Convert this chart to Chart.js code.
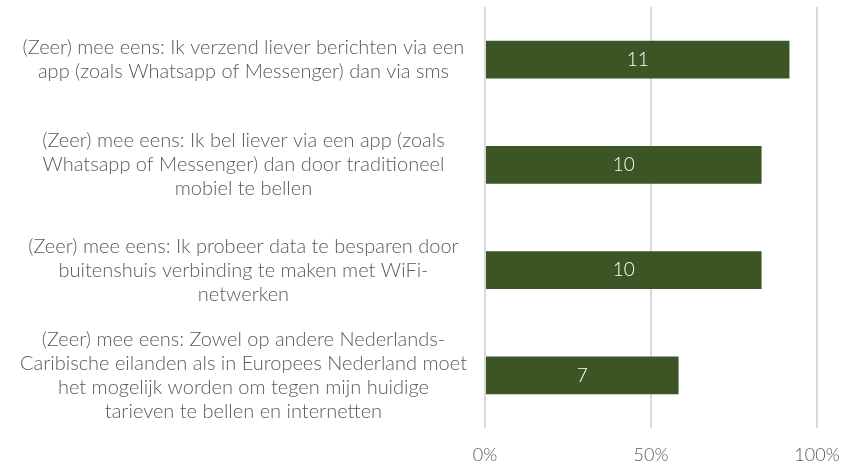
<!DOCTYPE html>
<html><head><meta charset="utf-8">
<script src="https://cdn.jsdelivr.net/npm/chart.js@4/dist/chart.umd.min.js"></script>
<style>html,body{margin:0;padding:0;background:#fff}#wrap{width:859px;height:466px}</style>
</head><body><div id="wrap"><canvas id="c"></canvas></div>
<script>
const categories = [
  ["(Zeer) mee eens: Ik verzend liever berichten via een","app (zoals Whatsapp of Messenger) dan via sms"],
  ["(Zeer) mee eens: Ik bel liever via een app (zoals","Whatsapp of Messenger) dan door traditioneel","mobiel te bellen"],
  ["(Zeer) mee eens: Ik probeer data te besparen door","buitenshuis verbinding te maken met WiFi-","netwerken"],
  ["(Zeer) mee eens: Zowel op andere Nederlands-","Caribische eilanden als in Europees Nederland moet","het mogelijk worden om tegen mijn huidige","tarieven te bellen en internetten"]
];
const percentValues = [91.7, 83.3, 83.3, 58.3];
const countLabels = ["11", "10", "10", "7"];
const xTicks = [0, 50, 100];

const FONT = "Lato, 'Open Sans', sans-serif";

const valueLabels = {
  id: 'valueLabels',
  afterDatasetsDraw(chart) {
    const ctx = chart.ctx;
    const meta = chart.getDatasetMeta(0);
    ctx.save();
    ctx.fillStyle = '#ffffff';
    ctx.font = '300 19px ' + FONT;
    ctx.textAlign = 'center';
    ctx.textBaseline = 'middle';
    meta.data.forEach((bar, i) => {
      const x = (bar.base + bar.x) / 2;
      ctx.fillText(countLabels[i], x, bar.y);
    });
    ctx.restore();
  }
};

new Chart(document.getElementById('c'), {
  type: 'bar',
  data: {
    labels: categories,
    datasets: [{
      data: percentValues,
      backgroundColor: '#3b5624',
      borderWidth: 0,
      barPercentage: 0.6,
      categoryPercentage: 0.6
    }]
  },
  options: {
    indexAxis: 'y',
    responsive: true,
    maintainAspectRatio: false,
    animation: false,
    layout: { padding: { top: 7, right: 42, bottom: 0, left: 0 } },
    plugins: { legend: { display: false }, tooltip: { enabled: false } },
    scales: {
      x: {
        min: 0, max: 100,
        afterBuildTicks(scale) { scale.ticks = xTicks.map(v => ({ value: v })); },
        afterFit(scale) { scale.height = 38; scale.paddingLeft = 0; scale.paddingRight = 0; },
        grid: { color: '#d9d9d9', lineWidth: 2, drawTicks: false },
        border: { display: false },
        ticks: {
          padding: 16,
          color: '#595959',
          font: { family: FONT, size: 18, weight: '300' },
          callback: v => v + '%'
        }
      },
      y: {
        grid: { display: false, drawTicks: false },
        border: { display: false },
        afterFit(scale) { scale.width = 485; scale.paddingTop = 0; scale.paddingBottom = 0; },
        ticks: {
          autoSkip: false,
          crossAlign: 'center',
          padding: 18,
          color: '#595959',
          font: { family: FONT, size: 20, weight: '300', lineHeight: 1.2 }
        }
      }
    }
  },
  plugins: [valueLabels]
});
</script></body></html>
